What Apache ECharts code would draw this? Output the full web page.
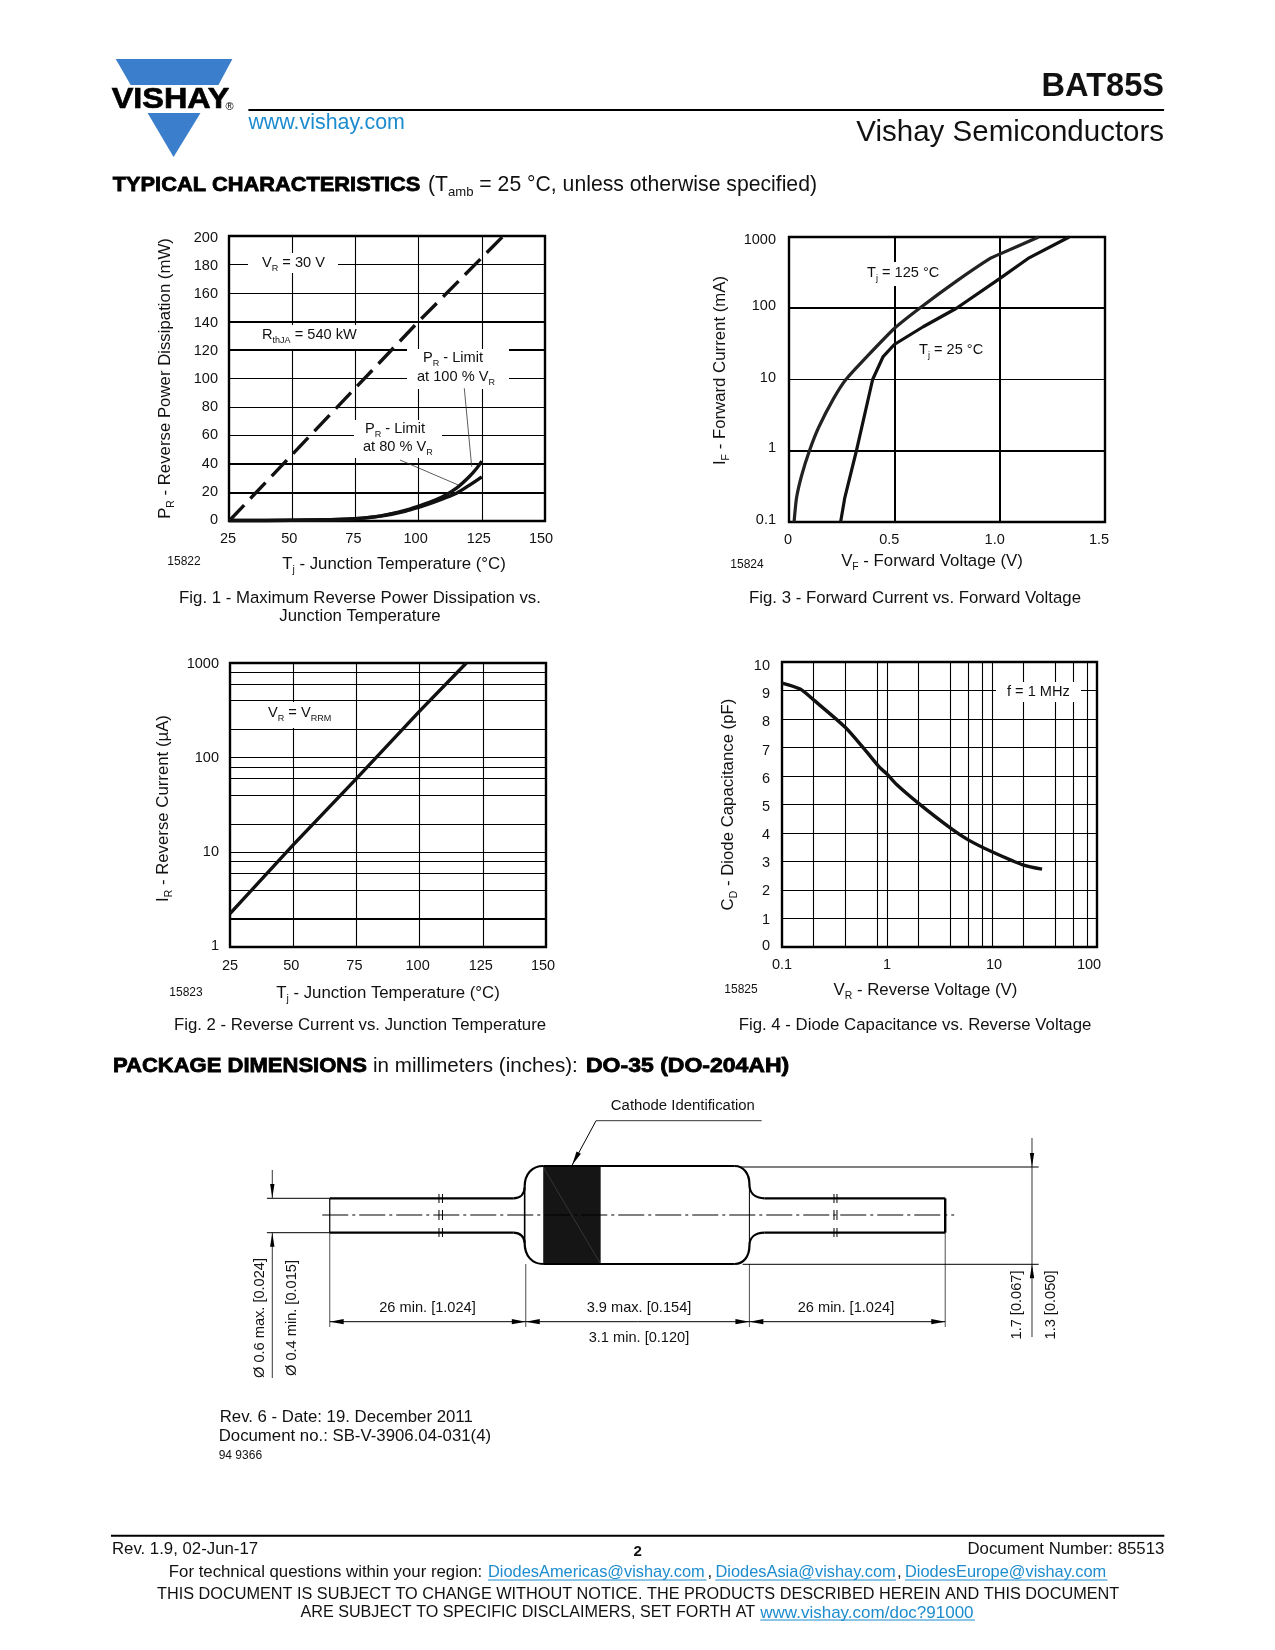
<!DOCTYPE html>
<html><head><meta charset="utf-8">
<style>html,body{margin:0;padding:0;background:#fff}#c{width:1275px;height:1650px}</style>
<script src="https://cdn.jsdelivr.net/npm/echarts@6/dist/echarts.min.js"></script>
</head><body><div id="c"></div>
<script>
// ---------- data ----------
const fig1Ticks = [25,50,75,100,125,150];
const fig1YTicks = [0,20,40,60,80,100,120,140,160,180,200];
const fig1Thermal = [[25,0],[100,140],[133.5,200]];
const fig1Limit100 = [[25,0.3],[50,0.5],[65,0.9],[75,1.6],[85,3.6],[95,7.6],[100,10.5],[105,13.6],[110,17.5],[115,23],[120,31],[123,37],[125,42]];
const fig1Limit80 = [[25,0.3],[50,0.5],[65,0.9],[75,1.6],[85,3.4],[95,7],[100,9.6],[105,12.5],[110,15.8],[115,19.5],[120,25],[123,28.5],[125,31]];
const fig1RowsThin = [60,80,100,160,180];
const fig1RowsThick = [20,40,120,140];
const fig1Cols = [50,75,100,125];

const fig2Ticks = [25,50,75,100,125,150];
const fig2Current = [[25,2.25],[50,12],[75,60],[100,310],[118.5,1000]];
const fig2RowsThin = [4,6,8,10,20,40,60,80,100,200,400,600,800];
const fig2RowsThick = [2];
const fig2Cols = [50,75,100,125];

const fig3Ticks = [0,0.5,1,1.5];
const fig3T125 = [[0.024,0.1],[0.036,0.22],[0.06,0.45],[0.097,1],[0.14,2.1],[0.21,5.3],[0.27,10],[0.37,21],[0.5,52],[0.62,100],[0.795,240],[0.955,500],[1,575],[1.185,1000]];
const fig3T25 = [[0.245,0.1],[0.265,0.22],[0.32,1],[0.397,10],[0.447,21],[0.5,31],[0.637,55],[0.795,100],[1,260],[1.135,500],[1.33,1000]];
const fig3RowsThin = [10];
const fig3RowsThick = [1,100];
const fig3Cols = [0.5,1];

const fig4Capacitance = [[0.1,9.26],[0.149,9.05],[0.2,8.67],[0.4,7.71],[0.61,6.94],[0.85,6.3],[1,6.07],[1.22,5.72],[2,5.04],[4,4.18],[6,3.75],[10,3.34],[20,2.87],[30,2.73]];
const fig4Rows = [1,2,3,4,5,6,7,8,9];
const fig4Cols = [0.2,0.4,0.8,1,2,4,6,8,10,20,40,60,80];

// ---------- helpers ----------
const FF = '"Liberation Sans", Arial, sans-serif';
let X = v=>v;
const richFor = (size, color) => ({
  b:{fontFamily:FF,fontSize:size,color:color||'#111',verticalAlign:'middle'},
  s:{fontFamily:FF,fontSize:size*0.62,color:color||'#111',padding:[size*0.7,0,0,0],verticalAlign:'bottom'}
});
const G = [];
function T(x,y,text,o={}){
  const size=o.size||16.8, isRich=o.rich;
  const st={text,fontFamily:FF,fontSize:size,fontWeight:o.bold?'bold':'normal',fill:o.color||'#111',align:o.align||'left',verticalAlign:'middle'};
  if(isRich) st.rich=richFor(size,o.color);
  if(o.stroke){st.stroke=o.color||'#000';st.lineWidth=o.stroke;}
  G.push({type:'text',x:X(x),y:y+1,rotation:o.rot||0,scaleX:o.sx||1,z:o.z||30,silent:true,style:st});
}
const A=(x,y,t,o={})=>T(x,y-1,t,Object.assign({size:14.6,rich:true},o));
function L(x1,y1,x2,y2,w=1,c='#000',dash){
  G.push({type:'line',z:20,silent:true,shape:{x1:X(x1),y1,x2:X(x2),y2},style:{stroke:c,lineWidth:w,lineDash:dash||null}});
}
function B(x1,y1,a,b,c,d,x2,y2,w=2){
  G.push({type:'bezierCurve',z:21,silent:true,shape:{x1:X(x1),y1,cpx1:X(a),cpy1:b,cpx2:X(c),cpy2:d,x2:X(x2),y2},style:{stroke:'#000',lineWidth:w,fill:null}});
}
function P(pts,c,z=21){G.push({type:'polygon',z,silent:true,shape:{points:pts.map(([x,y])=>[X(x),y])},style:{fill:c,stroke:null}});}
function M(x,y,w,h){G.push({type:'rect',z:5,silent:true,shape:{x,y,width:w,height:h},style:{fill:'#fff'}});}
function arrow(x,y,dx,dy,len=13,half=3){
  const nx=-dy,ny=dx;
  P([[x,y],[x-dx*len+nx*half,y-dy*len+ny*half],[x-dx*len-nx*half,y-dy*len-ny*half]],'#000');
}
const rowMarks=(list,w)=>list.map(v=>({yAxis:v,lineStyle:{width:w,color:'#000',type:'solid'}}));
const colMarks=(list,w)=>list.map(v=>({xAxis:v,lineStyle:{width:w,color:'#000',type:'solid'}}));
function gridSeries(idx,marks,seed){
  return {type:'line',xAxisIndex:idx,yAxisIndex:idx,z:3,data:[seed],showSymbol:false,symbol:'none',
    lineStyle:{width:0,opacity:0},silent:true,animation:false,
    markLine:{z:3,silent:true,symbol:['none','none'],label:{show:false},animation:false,data:marks}};
}
function curve(idx,data,w,extra={}){
  return {type:'line',xAxisIndex:idx,yAxisIndex:idx,z:10,data,showSymbol:false,symbol:'none',silent:true,animation:false,
    lineStyle:Object.assign({width:w,color:'#111',cap:'butt',join:'round'},extra.ls||{}),smooth:extra.smooth||0};
}
const TICK=14.5, NAME=16.8;
function xAxisOf(idx,cfg){
  const rich={}; const keys=Object.keys(cfg.shift||{});
  keys.forEach((k,i)=>{const s=cfg.shift[k];rich['k'+i]={fontFamily:FF,fontSize:TICK,color:'#111',padding:s<0?[0,-2*s,0,0]:[0,0,0,2*s]};});
  return {type:cfg.type||'value',gridIndex:idx,min:cfg.min,max:cfg.max,interval:cfg.interval,logBase:cfg.type==='log'?10:undefined,
    axisLine:{show:false},axisTick:{show:false},splitLine:{show:false},minorSplitLine:{show:false},
    name:cfg.name,nameLocation:'middle',nameGap:cfg.gap,
    nameTextStyle:{rich:richFor(NAME),padding:cfg.namePad||0},
    axisLabel:{margin:cfg.margin||10,showMinLabel:true,showMaxLabel:true,hideOverlap:false,color:'#111',fontFamily:FF,fontSize:TICK,rich,
      formatter:v=>{const key=String(+(+v).toFixed(3));const lab=cfg.fmt?cfg.fmt(+key):key;const i=keys.indexOf(key);return i>=0?`{k${i}|${lab}}`:lab;}}};
}
function yAxisOf(idx,cfg){
  const rich={}; const keys=Object.keys(cfg.shift||{});
  keys.forEach((k,i)=>{const s=cfg.shift[k];rich['k'+i]={fontFamily:FF,fontSize:TICK,color:'#111',padding:s<0?[0,0,-2*s,0]:[2*s,0,0,0]};});
  return {type:cfg.type||'value',gridIndex:idx,min:cfg.min,max:cfg.max,interval:cfg.interval,logBase:cfg.type==='log'?10:undefined,
    axisLine:{show:false},axisTick:{show:false},splitLine:{show:false},minorSplitLine:{show:false},
    name:cfg.name,nameLocation:'middle',nameGap:cfg.gap,nameRotate:90,
    nameTextStyle:{rich:richFor(NAME),padding:cfg.namePad||0},
    axisLabel:{margin:cfg.margin||11,showMinLabel:true,showMaxLabel:true,hideOverlap:false,color:'#111',fontFamily:FF,fontSize:TICK,rich,
      formatter:v=>{const key=String(+(+v).toFixed(3));const i=keys.indexOf(key);return i>=0?`{k${i}|${key}}`:key;}}};
}
const gridOf=(l,t,r,b)=>({left:l,top:t,width:r-l,height:b-t,show:true,backgroundColor:'transparent',borderColor:'#000',borderWidth:2.4,containLabel:false,z:9});

// ---------- page furniture ----------
X=v=>v*0.9975;
P([[116,59],[233,59],[219,85],[131,85]],'#3b7ecb');
P([[148,113],[201,113],[174,157]],'#3b7ecb');
T(112,99,'VISHAY',{size:30,bold:true,color:'#000',stroke:0.7,sx:1.08});
T(226,106,'®',{size:11,color:'#000'});
L(249,110,1167,110,2);
T(249,122,'www.vishay.com',{size:21.4,color:'#1c8ccf'});
T(1167,86,'BAT85S',{size:32.6,bold:true,align:'right'});
T(1167,132,'Vishay Semiconductors',{size:29.5,align:'right'});
T(113,184,'TYPICAL CHARACTERISTICS',{size:20,bold:true,stroke:0.8,color:'#000',sx:1.09});
T(429,184,'{b|(T}{s|amb}{b| = 25 °C, unless otherwise specified)}',{size:21.2,rich:true});

X=v=>v;
T(360,597,'Fig. 1 - Maximum Reverse Power Dissipation vs.',{align:'center'});
T(360,615,'Junction Temperature',{align:'center'});
T(915,597,'Fig. 3 - Forward Current vs. Forward Voltage',{align:'center'});
T(360,1024,'Fig. 2 - Reverse Current vs. Junction Temperature',{align:'center'});
T(915,1024,'Fig. 4 - Diode Capacitance vs. Reverse Voltage',{align:'center'});
T(184,561,'15822',{size:12,align:'center'});
T(747,564,'15824',{size:12,align:'center'});
T(186,992,'15823',{size:12,align:'center'});
T(741,989,'15825',{size:12,align:'center'});

// chart annotations
M(248,253,90,20); A(262,263,'{b|V}{s|R}{b| = 30 V}');
M(258,325,101,24); A(262,335,'{b|R}{s|thJA}{b| = 540 kW}');
M(407,349,102,40); A(423,358,'{b|P}{s|R}{b| - Limit}'); A(417,377,'{b|at 100 % V}{s|R}');
M(354,420,88,38); A(365,429,'{b|P}{s|R}{b| - Limit}'); A(363,447,'{b|at 80 % V}{s|R}');
L(464.3,388.3,471.7,466.7,0.8,'#333'); L(400,460,458.3,485,0.8,'#333');
M(864,262,78,24); A(867,273,'{b|T}{s|j}{b| = 125 °C}');
A(919,350,'{b|T}{s|j}{b| = 25 °C}');
M(264,702,70,26); A(268,713,'{b|V}{s|R}{b| = V}{s|RRM}');
M(996,682,85,20); A(1007,692,'f = 1 MHz',{rich:false});

// package section
T(113,1065,'PACKAGE DIMENSIONS',{size:20,bold:true,stroke:0.8,color:'#000',sx:1.10});
T(373,1065,'in millimeters (inches):',{size:20.6});
T(586,1065,'DO-35 (DO-204AH)',{size:20,bold:true,stroke:0.8,color:'#000',sx:1.15});
X=v=>230+(v-230)*0.9975;
const D=14.6;
T(684,1105,'Cathode Identification',{size:14.9,align:'center'});
L(763,1120.7,597,1120.7,1,'#333'); L(597,1120.7,573,1165,1); arrow(573,1165,-0.47,0.88,14,2.5);
P([[544,1166],[601.6,1166],[601.6,1264],[544,1264]],'#151515',20);
L(544,1167,601,1263,0.4,'#666');
const lw=2.2;
L(330,1198.3,514,1198.3,lw); L(330,1232.7,514,1232.7,lw); L(330,1198.3,330,1232.7,1.2);
L(766,1198.3,947,1198.3,lw); L(766,1232.7,947,1232.7,lw); L(947,1198.3,947,1232.7,2.4);
L(544,1166,736,1166,lw); L(544,1264,736,1264,lw);
B(514,1198.3,521,1198.3,525.4,1194,525.4,1186.7,lw); B(514,1232.7,521,1232.7,525.4,1237,525.4,1243,lw);
B(525.4,1186.7,525.4,1174,533,1166,544,1166,lw); B(525.4,1243,525.4,1256,533,1264,544,1264,lw);
L(525.4,1186.7,525.4,1243,1.6);
B(736,1166,745,1166,750.7,1174,750.7,1184,lw); B(736,1264,745,1264,750.7,1256,750.7,1246,lw);
B(750.7,1184,750.7,1193,756,1198.3,766,1198.3,lw); B(750.7,1246,750.7,1238,756,1232.7,766,1232.7,lw);
L(750.7,1186,750.7,1244,1);
L(322.5,1215,956,1215,1,'#000',[26,4,3,4]);
[[439.5,443],[835.5,838.5]].forEach(([a,b])=>{[a,b].forEach(x=>{L(x,1194,x,1203,1);L(x,1210,x,1220,1);L(x,1228,x,1237,1);});});
L(741,1167,1040.7,1167,1); L(744,1264.3,1040.7,1264.3,1);
L(267,1198.3,330,1198.3,1); L(267,1232.7,330,1232.7,1);
[[330,1232.7],[526.5,1264],[750.7,1264],[947,1232.7]].forEach(([x,y])=>L(x,y,x,1327,0.7));
L(330,1321.7,947,1321.7,1);
[526.5,750.7,947].forEach(x=>arrow(x,1321.7,1,0,14,2.6));
[330,526.5,750.7].forEach(x=>arrow(x,1321.7,-1,0,14,2.6));
T(428,1307,'26 min. [1.024]',{size:D,align:'center'});
T(640,1307,'3.9 max. [0.154]',{size:D,align:'center'});
T(847.5,1307,'26 min. [1.024]',{size:D,align:'center'});
T(640,1337,'3.1 min. [0.120]',{size:D,align:'center'});
L(272.4,1170,272.4,1198,0.8); arrow(272.4,1198,0,1,14,2.2);
L(272.4,1232.7,272.4,1378,0.8); arrow(272.4,1232.7,0,-1,14,2.2);
T(260,1317,'Ø 0.6 max. [0.024]',{size:D,align:'center',rot:Math.PI/2});
T(292,1317,'Ø 0.4 min. [0.015]',{size:D,align:'center',rot:Math.PI/2});
L(1034,1138,1034,1167,0.8); arrow(1034,1167,0,1,14,2.2);
L(1034,1167,1034,1337,0.8); arrow(1034,1264.3,0,-1,14,2.2);
T(1019,1304,'1.7 [0.067]',{size:D,align:'center',rot:Math.PI/2});
T(1052.6,1304,'1.3 [0.050]',{size:D,align:'center',rot:Math.PI/2});

// notes + footer
X=v=>90+(v-90)*0.9975;
T(220,1416,'Rev. 6 - Date: 19. December 2011');
T(219,1435,'Document no.: SB-V-3906.04-031(4)');
T(219,1455,'94 9366',{size:12});
L(111,1535.7,1167,1535.7,2);
T(112,1548,'Rev. 1.9, 02-Jun-17');
T(639,1551,'2',{size:15,bold:true,align:'center'});
T(1167,1548,'Document Number: 85513',{align:'right'});
T(169,1571,'For technical questions within your region:');
const LINK='#1c8ccf';
[[489,'DiodesAmericas@vishay.com',708],[717,'DiodesAsia@vishay.com',898],[907,'DiodesEurope@vishay.com',1110]].forEach(([x,t,e])=>{T(x,1571,t,{size:16.4,color:LINK});L(x,1580,e,1580,1,LINK);});
T(709,1571,','); T(899,1571,',');
T(639.5,1594,'THIS DOCUMENT IS SUBJECT TO CHANGE WITHOUT NOTICE. THE PRODUCTS DESCRIBED HEREIN AND THIS DOCUMENT',{size:16.25,align:'center'});
T(301,1612,'ARE SUBJECT TO SPECIFIC DISCLAIMERS, SET FORTH AT',{size:16.15});
T(762,1612,'www.vishay.com/doc?91000',{size:17,color:LINK}); L(762,1620,977,1620,1,LINK);

// ---------- charts ----------
const option={animation:false,backgroundColor:'#fff',
 grid:[gridOf(229,236,545,521),gridOf(789,237,1105,522),gridOf(230,663,546,947),gridOf(782,662,1097,947)],
 xAxis:[
  xAxisOf(0,{min:25,max:150,interval:25,gap:32,name:'{b|T}{s|j}{b| - Junction Temperature (°C)}',namePad:[0,0,0,14],
    shift:{25:-1,50:-3,75:-2,100:-3,125:-3,150:-4}}),
  xAxisOf(1,{min:0,max:1.5,interval:0.5,gap:28,name:'{b|V}{s|F}{b| - Forward Voltage (V)}',namePad:[0,30,0,0],
    fmt:v=>v===0?'0':v.toFixed(1),shift:{0:-1,0.5:-5,1:-5,1.5:-6}}),
  xAxisOf(2,{min:25,max:150,interval:25,gap:35,name:'{b|T}{s|j}{b| - Junction Temperature (°C)}',margin:11,
    shift:{50:-2,75:-2,100:-2,125:-2,150:-3}}),
  xAxisOf(3,{type:'log',min:0.1,max:100,gap:32,name:'{b|V}{s|R}{b| - Reverse Voltage (V)}',namePad:[0,28,0,0],margin:10,
    shift:{10:2,100:-8}})
 ],
 yAxis:[
  yAxisOf(0,{min:0,max:200,interval:20,gap:53,name:'{b|P}{s|R}{b| - Reverse Power Dissipation (mW)}',
    shift:{200:1.5,180:1.5,160:1,140:1,120:1,60:-1,20:-1,0:-1}}),
  yAxisOf(1,{type:'log',min:0.1,max:1000,gap:58,name:'{b|I}{s|F}{b| - Forward Current (mA)}',margin:13,namePad:[0,0,0,18],
    shift:{1000:2.5,100:-2,10:-2,1:-3,0.1:-2}}),
  yAxisOf(2,{type:'log',min:1,max:1000,gap:56,name:'{b|I}{s|R}{b| - Reverse Current (µA)}',margin:11,namePad:[0,7,0,0],
    shift:{1000:1,1:-1}}),
  yAxisOf(3,{min:0,max:10,interval:1,gap:43,name:'{b|C}{s|D}{b| - Diode Capacitance (pF)}',margin:12,
    shift:{10:4,9:3,8:3,7:3,6:3,5:2,4:2,3:1,2:1,1:1,0:-1}})
 ],
 series:[
  gridSeries(0,[...rowMarks(fig1RowsThin,1.1),...rowMarks(fig1RowsThick,1.9),...colMarks(fig1Cols,1.1)],fig1Thermal[0]),
  curve(0,fig1Thermal,3.4,{ls:{type:[22,9]}}),
  curve(0,fig1Limit100,3.4,{smooth:0.3}),
  curve(0,fig1Limit80,3.4,{smooth:0.3}),
  gridSeries(1,[...rowMarks(fig3RowsThin,1.1),...rowMarks(fig3RowsThick,2),...colMarks(fig3Cols,2)],fig3T25[0]),
  curve(1,fig3T125,3.2,{smooth:0.2,ls:{color:'#222'}}),
  curve(1,fig3T25,3.2,{}),
  gridSeries(2,[...rowMarks(fig2RowsThin,1.1),...rowMarks(fig2RowsThick,2),...colMarks(fig2Cols,1.1)],fig2Current[0]),
  curve(2,fig2Current,3.4,{}),
  gridSeries(3,[...rowMarks(fig4Rows,1.1),...colMarks(fig4Cols,1.1)],fig4Capacitance[0]),
  curve(3,fig4Capacitance,3.4,{smooth:0.25})
 ],
 graphic:{elements:G}
};
const chart=echarts.init(document.getElementById('c'),null,{width:1275,height:1650});
chart.setOption(option);
</script></body></html>
